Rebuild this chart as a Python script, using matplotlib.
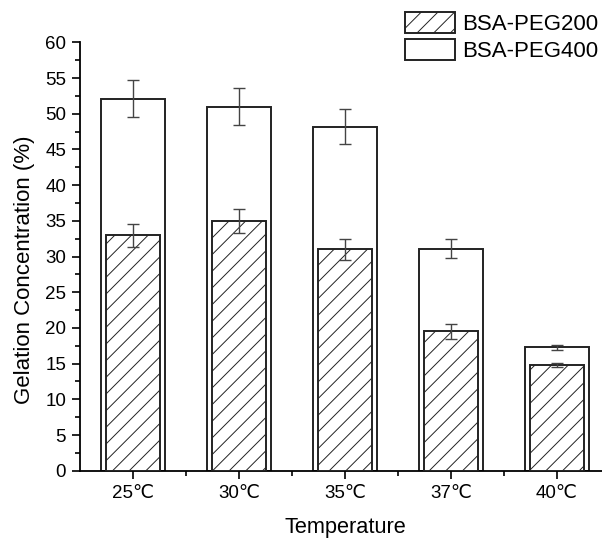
import matplotlib.pyplot as plt
import numpy as np

plt.rcParams['font.family'] = ['Liberation Sans', 'DejaVu Sans']
plt.rcParams['hatch.color'] = '#555555'
plt.rcParams['hatch.linewidth'] = 0.7

# gelation concentration at each temperature
temps = ['25℃', '30℃', '35℃', '37℃', '40℃']
peg400 = [52.1, 51.0, 48.2, 31.1, 17.3]
peg400_err = [2.6, 2.55, 2.4, 1.3, 0.35]
peg200 = [33.0, 35.0, 31.0, 19.5, 14.8]
peg200_err = [1.6, 1.7, 1.5, 1.0, 0.3]

fig = plt.figure(figsize=(6.02, 5.39), dpi=100)
ax = fig.add_axes([0.133, 0.1267, 0.88, 0.7948])

x = np.arange(len(temps))
err_kw = dict(ecolor='#444444', elinewidth=1.0, capsize=4, capthick=1.0)

# wide open bars behind, narrower hatched bars in front
b400 = ax.bar(x, peg400, width=0.6, color='white', edgecolor='#222222',
              linewidth=1.4, yerr=peg400_err, error_kw=err_kw, zorder=2,
              label='BSA-PEG400')
b200 = ax.bar(x, peg200, width=0.51, color='white', edgecolor='#222222',
              linewidth=1.4, hatch='//', yerr=peg200_err, error_kw=err_kw,
              zorder=3, label='BSA-PEG200')

ax.set_xlim(-0.5, 4.5)
ax.set_ylim(0, 60)
ax.set_xticks(x)
ax.set_xticklabels(temps)
ax.set_xticks(x[:-1] + 0.5, minor=True)
ax.set_yticks(np.arange(0, 61, 5))
ax.set_yticks(np.arange(2.5, 60, 5), minor=True)

for s in ['top', 'right']:
    ax.spines[s].set_visible(False)
for s in ['left', 'bottom']:
    ax.spines[s].set_linewidth(1.3)

ax.tick_params(which='major', direction='out', length=6, width=1.2,
               labelsize=13.5, pad=4)
ax.tick_params(which='minor', direction='out', length=3.5, width=1.2)

ax.set_ylabel('Gelation Concentration (%)', fontsize=16)
ax.yaxis.set_label_coords(-0.085, 0.47)
ax.set_xlabel('Temperature', fontsize=15.7)
ax.xaxis.set_label_coords(0.5, -0.108)

fig.legend(handles=[b200, b400], labels=['BSA-PEG200', 'BSA-PEG400'],
           loc='upper left', bbox_to_anchor=(405 / 602, 1 - 12 / 539),
           frameon=False, fontsize=16, handlelength=2.25, handleheight=1.08,
           labelspacing=0.18, handletextpad=0.3, borderpad=0,
           borderaxespad=0)

fig.savefig('out.png', dpi=100)
